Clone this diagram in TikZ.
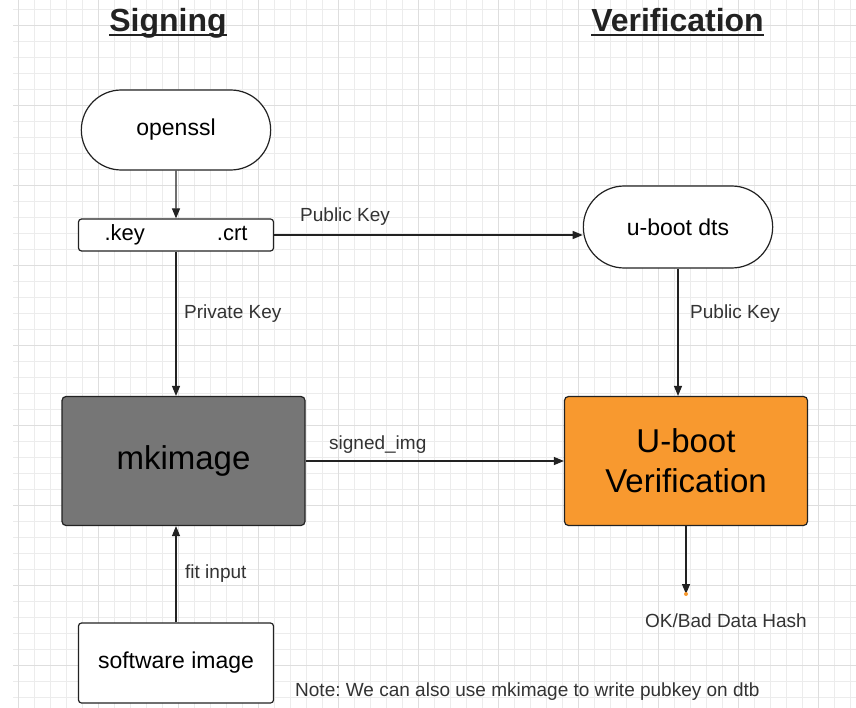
\documentclass[tikz,border=0pt]{standalone}
\usepackage{fontspec}
\setmainfont{Liberation Sans}
\usetikzlibrary{positioning,
  shapes.misc,
  arrows.meta
}
\definecolor{gridminor}{HTML}{ECECEC}
\definecolor{gridmajor}{HTML}{DEDEDE}
\definecolor{ubootorange}{HTML}{F8992F}
\definecolor{mkgray}{HTML}{767676}
\definecolor{labeltext}{HTML}{333333}
\definecolor{edgecol}{HTML}{222222}
\frenchspacing

\begin{document}
\begin{tikzpicture}[x=1pt, y=-1pt,
  pill/.style={rounded rectangle, draw=edgecol, line width=1.2pt, fill=white,
    minimum width=196pt, minimum height=80pt, font=\fontsize{23}{27}\selectfont},
  keybox/.style={rectangle, rounded corners=3pt, draw=edgecol, line width=1.2pt, fill=white,
    minimum width=195pt, minimum height=32pt, font=\fontsize{22}{26}\selectfont},
  block/.style={rectangle, rounded corners=4pt, draw=edgecol, line width=1.2pt,
    minimum width=243pt, minimum height=129pt, align=center,
    font=\fontsize{33}{40}\selectfont},
  lbl/.style={text=labeltext, font=\fontsize{19}{22}\selectfont, inner sep=0pt, anchor=west},
  title/.style={font=\bfseries\fontsize{32}{36}\selectfont, text=edgecol, inner sep=0pt, anchor=base},
  flow/.style={-{Triangle[length=10pt,width=8pt]}, line width=1.2pt, draw=edgecol}]

  \useasboundingbox (0,0) rectangle (856,708);
  \fill[white] (0,0) rectangle (856,708);

  % background grid
  \foreach \k in {0,...,52}
    \draw[gridminor, line width=0.8pt] (18+16*\k,0) -- (18+16*\k,708);
  \foreach \k in {0,...,43}
    \draw[gridminor, line width=0.8pt] (13,9.3+16*\k) -- (856,9.3+16*\k);
  \foreach \k in {0,...,10}
    \draw[gridmajor, line width=0.8pt] (18+80*\k,0) -- (18+80*\k,708);
  \foreach \k in {0,...,8}
    \draw[gridmajor, line width=0.8pt] (13,25.3+80*\k) -- (856,25.3+80*\k);

  % titles
  \node[title] (signing) at (168,32) {Signing};
  \node[title] (verif)   at (677.5,32) {Verification};
  \draw[edgecol, line width=2.5pt] ([yshift=-3pt]signing.base west) -- ([yshift=-3pt]signing.base east);
  \draw[edgecol, line width=2.5pt] ([yshift=-3pt]verif.base west) -- ([yshift=-3pt]verif.base east);

  % nodes
  \node[pill] (openssl) at (176,130) {openssl};
  \node[keybox] (keys) at (176,235) {.key\hspace{72pt}.crt};
  \node[pill, minimum height=82pt] (dts) at (678,227) {u-boot dts};
  \node[block, fill=mkgray] (mkimage) at (183.5,461) {mkimage};
  \node[block, fill=ubootorange] (uboot) at (686,461) {U-boot\\Verification};
  \node[keybox, minimum height=80pt, font=\fontsize{23}{27}\selectfont] (software) at (176,663) {software image};
  \coordinate (hashend) at (686,594);

  % labels
  \node[lbl] (pubkeyA) at (300,217) {Public Key};
  \node[lbl] (privkey) at (184,314) {Private Key};
  \node[lbl] (pubkeyB) at (690,314) {Public Key};
  \node[lbl] (signed)  at (329,445) {signed\_img};
  \node[lbl] (fitin)   at (185,574) {fit input};
  \node[lbl] (hash)    at (645,621) {OK/Bad Data Hash};
  \node[lbl] (note)    at (295,692) {Note: We can also use mkimage to write pubkey on dtb};

  % connectors
  \draw[flow] (openssl) -- (keys);
  \draw[flow] (keys.east) -- (keys.east -| dts.west);
  \draw[flow] (keys.south) -- (keys.south |- mkimage.north);
  \draw[flow] (dts.south) -- (dts.south |- uboot.north);
  \draw[flow] (mkimage) -- (uboot);
  \draw[flow] (software.north) -- (software.north |- mkimage.south);
  \draw[flow] (uboot.south) -- (hashend);
  \fill[ubootorange] (hashend) circle (2pt);

\end{tikzpicture}
\end{document}
